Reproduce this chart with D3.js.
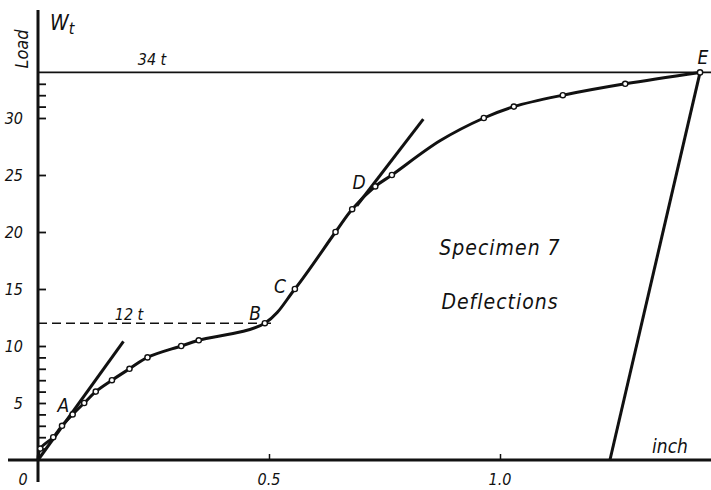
<!DOCTYPE html>
<html><head><meta charset="utf-8">
<script src="https://cdn.jsdelivr.net/npm/d3@7"></script>
<style>
html,body{margin:0;padding:0;background:#fff;}
svg text{font-family:"DejaVu Sans Condensed","Liberation Sans Narrow",sans-serif;font-style:italic;fill:#111;}
</style></head><body>
<svg id="c" width="711" height="490"></svg>
<script>
// Measured points (deflection in inch, load in t); markerFlags=0 marks a curve-only point
const deflections = [0, 0.005, 0.033, 0.052, 0.075, 0.100, 0.125, 0.160, 0.198, 0.237, 0.310, 0.348, 0.491, 0.556, 0.644, 0.680, 0.730, 0.766, 0.870, 0.965, 1.030, 1.136, 1.271, 1.433];
const loads       = [0, 1, 2, 3, 4, 5, 6, 7, 8, 9, 10, 10.5, 12, 15, 20, 22, 24, 25, 28.0, 30, 31, 32, 33, 34];
const markerFlags = [0, 1, 1, 1, 1, 1, 1, 1, 1, 1, 1, 1, 1, 1, 1, 1, 1, 1, 0, 1, 1, 1, 1, 1];
// Initial tangent (A), tangent at D, unloading line
const tangentA = [[0, 0], [0.185, 10.4]];
const tangentD = [[0.69, 22.3], [0.834, 29.9]];
const unloading = [[1.238, 0], [1.433, 34]];
// Reference levels
const maxLoad = 34, yieldLoad = 12;
const yMajorTicks = [5, 10, 15, 20, 25, 30];
const yMinorTicks = [1, 2, 3, 4, 6, 7, 8, 9, 31, 32, 33];
const xTicks = [0.5, 1.0];
const xTickLabels = ["0.5", "1.0"];
const pointLabels = [["A", 0.055, 4.2], ["B", 0.470, 12.28], ["C", 0.524, 14.65], ["D", 0.695, 23.77], ["E", 1.439, 34.7]];

const svg = d3.select("#c");
const x = d3.scaleLinear().domain([0, 1]).range([38, 500]);
const y = d3.scaleLinear().domain([0, 10]).range([460, 346]);

// 34 t line
svg.append("line").attr("x1", x(0)).attr("x2", 711).attr("y1", y(maxLoad)).attr("y2", y(maxLoad))
  .attr("stroke", "#111").attr("stroke-width", 1.6);
// 12 t dashed
svg.append("line").attr("x1", x(0)).attr("x2", x(0.51)).attr("y1", y(yieldLoad)).attr("y2", y(yieldLoad))
  .attr("stroke", "#111").attr("stroke-width", 1.6).attr("stroke-dasharray", "9,5");

// axes
svg.append("line").attr("x1", 8).attr("x2", 711).attr("y1", y(0)).attr("y2", y(0))
  .attr("stroke", "#111").attr("stroke-width", 3);
svg.append("line").attr("x1", x(0)).attr("x2", x(0)).attr("y1", 482).attr("y2", 10)
  .attr("stroke", "#111").attr("stroke-width", 3);

const yAxis = d3.axisRight(y).tickValues(yMajorTicks.concat(yMinorTicks)).tickSize(8).tickFormat("");
const gy = svg.append("g").attr("transform", `translate(${x(0)},0)`).call(yAxis);
gy.select(".domain").remove();
gy.selectAll("line").attr("stroke", "#111").attr("stroke-width", 1.8);

svg.selectAll(".ylab").data(yMajorTicks).enter().append("text")
  .attr("x", 23).attr("y", d => y(d) + 6).attr("text-anchor", "end")
  .attr("font-size", 16).text(d => d);

const xAxis = d3.axisTop(x).tickValues(xTicks).tickSize(6).tickFormat("");
const gx = svg.append("g").attr("transform", `translate(0,${y(0)})`).call(xAxis);
gx.select(".domain").remove();
gx.selectAll("line").attr("stroke", "#111").attr("stroke-width", 1.5);
svg.selectAll(".xlab").data(xTicks).enter().append("text")
  .attr("x", d => x(d)).attr("y", 485).attr("text-anchor", "middle")
  .attr("font-size", 16).text((d, i) => xTickLabels[i]);
svg.append("text").attr("x", 23).attr("y", 485).attr("text-anchor", "middle").attr("font-size", 16).text("0");

// curve
const pts = deflections.map((d, i) => [d, loads[i]]);
const line = d3.line().x(d => x(d[0])).y(d => y(d[1])).curve(d3.curveCatmullRom.alpha(0.5));
svg.append("path").attr("d", line(pts)).attr("fill", "none").attr("stroke", "#111").attr("stroke-width", 3);

const straight = d3.line().x(d => x(d[0])).y(d => y(d[1]));
[tangentA, tangentD, unloading].forEach(s => {
  svg.append("path").attr("d", straight(s)).attr("fill", "none").attr("stroke", "#111").attr("stroke-width", 3);
});

svg.selectAll(".pt").data(pts.filter((d, i) => markerFlags[i])).enter().append("circle")
  .attr("cx", d => x(d[0])).attr("cy", d => y(d[1])).attr("r", 2.6)
  .attr("fill", "#fff").attr("stroke", "#111").attr("stroke-width", 1.4);

// labels
svg.selectAll(".pl").data(pointLabels).enter().append("text")
  .attr("x", d => x(d[1])).attr("y", d => y(d[2])).attr("text-anchor", "middle")
  .attr("font-size", 19).text(d => d[0]);

svg.append("text").attr("x", 152).attr("y", 65).attr("text-anchor", "middle").attr("font-size", 16).text("34 t");
svg.append("text").attr("x", 129).attr("y", 320).attr("text-anchor", "middle").attr("font-size", 16).text("12 t");

const w = svg.append("text").attr("x", 50).attr("y", 30).attr("font-size", 21);
w.append("tspan").text("W");
w.append("tspan").attr("font-size", 16).attr("dy", 4).text("t");

svg.append("text").attr("transform", "translate(28,49) rotate(-90)").attr("text-anchor", "middle")
  .attr("font-size", 18).text("Load");

svg.append("text").attr("x", 500).attr("y", 255).attr("text-anchor", "middle").attr("font-size", 21)
  .attr("letter-spacing", 1).text("Specimen 7");
svg.append("text").attr("x", 500).attr("y", 309).attr("text-anchor", "middle").attr("font-size", 21)
  .attr("letter-spacing", 1).text("Deflections");
svg.append("text").attr("x", 670).attr("y", 453).attr("text-anchor", "middle").attr("font-size", 19).text("inch");
</script>
</body></html>
